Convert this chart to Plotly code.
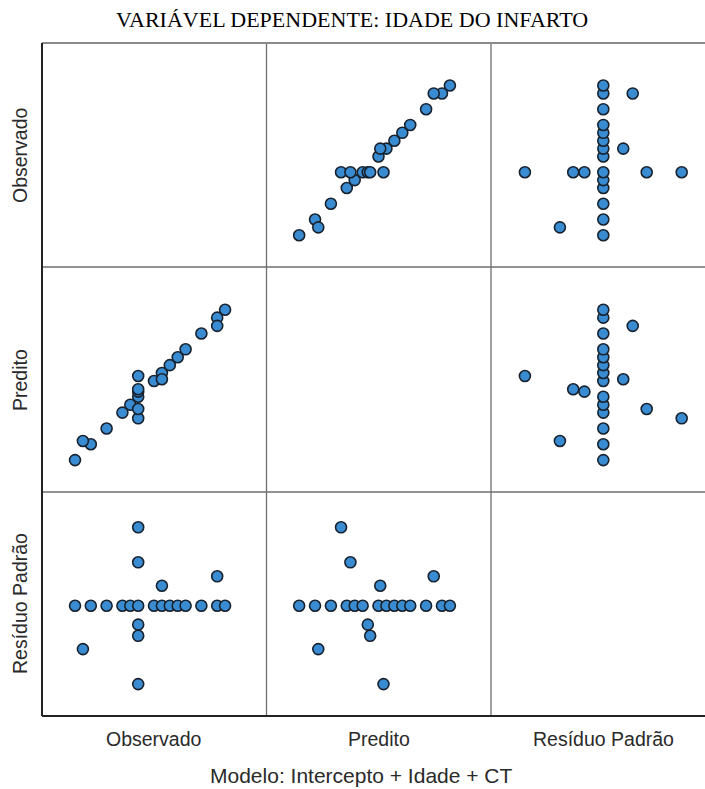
import plotly.graph_objects as go
from plotly.subplots import make_subplots

# ---- data ----
var_names = ["Observado", "Predito", "Resíduo Padrão"]
observado = [50, 52, 54, 56, 57, 58, 60, 61, 62, 63, 64, 66, 68, 69,
             58, 58, 68, 61, 58, 58, 51, 58]
predito = [50, 52, 54, 56, 57, 58, 60, 61, 62, 63, 64, 66, 68, 69,
           55.28, 56.46, 66.96, 60.22, 58.65, 58.95, 52.41, 60.63]
residuo = [0, 0, 0, 0, 0, 0, 0, 0, 0, 0, 0, 0, 0, 0,
           2.24, 1.24, 0.84, 0.57, -0.54, -0.86, -1.24, -2.24]
title_text = "VARIÁVEL DEPENDENTE: IDADE DO INFARTO"
footer_text = "Modelo: Intercepto + Idade + CT"

data = [observado, predito, residuo]
x_ranges = [[45.82, 74.18], [45.82, 74.18], [-3.209, 2.906]]
y_ranges = [[45.97, 74.4], [45.97, 74.4], [-3.151, 3.249]]

W, H = 705, 789
L, T, R, B = 42, 43, 0, 73

fig = make_subplots(rows=3, cols=3, horizontal_spacing=0, vertical_spacing=0,
                    column_widths=[224, 225, 214], row_heights=[224, 225, 224])

for i in range(3):
    for j in range(3):
        if i != j:
            fig.add_trace(go.Scatter(
                x=data[j], y=data[i], mode="markers",
                marker=dict(size=11, color="#3a8cd2",
                            line=dict(color="#18222e", width=1.6)),
                showlegend=False, hoverinfo="skip"), row=i + 1, col=j + 1)
        fig.update_xaxes(range=x_ranges[j], showgrid=False, zeroline=False,
                         showticklabels=False, ticks="", showline=False,
                         row=i + 1, col=j + 1)
        fig.update_yaxes(range=y_ranges[i], showgrid=False, zeroline=False,
                         showticklabels=False, ticks="", showline=False,
                         row=i + 1, col=j + 1)

pw, ph = W - L - R, H - T - B
def px(x):
    return (x - L) / pw
def py(y):
    return (H - B - y) / ph

shapes = []
for xs in [266.5, 491]:
    shapes.append(dict(type="line", xref="paper", yref="paper",
                       x0=px(xs), x1=px(xs), y0=0, y1=1,
                       line=dict(color="#6e6e6e", width=1.3)))
for ys in [267, 492]:
    shapes.append(dict(type="line", xref="paper", yref="paper",
                       x0=0, x1=1, y0=py(ys), y1=py(ys),
                       line=dict(color="#6e6e6e", width=1.3)))
shapes.append(dict(type="line", xref="paper", yref="paper",
                   x0=0, x1=1, y0=1, y1=1,
                   line=dict(color="#8a8a8a", width=2)))
shapes.append(dict(type="line", xref="paper", yref="paper",
                   x0=0, x1=0, y0=0, y1=1,
                   line=dict(color="#222222", width=2)))
shapes.append(dict(type="line", xref="paper", yref="paper",
                   x0=0, x1=1, y0=0, y1=0,
                   line=dict(color="#222222", width=2)))

lab_font = dict(family="Liberation Sans, Arial, sans-serif", size=19.5, color="#2a2a2a")
annotations = []
col_centers = [154, 379, 603]
row_centers = [155, 380, 604]
for k, name in enumerate(var_names):
    annotations.append(dict(text=name, xref="paper", yref="paper",
                            x=px(col_centers[k]), y=py(739), showarrow=False,
                            xanchor="center", yanchor="middle", font=lab_font))
    annotations.append(dict(text=name, xref="paper", yref="paper",
                            x=px(20), y=py(row_centers[k]), showarrow=False,
                            textangle=-90, xanchor="center", yanchor="middle",
                            font=lab_font))
annotations.append(dict(text=footer_text, xref="paper", yref="paper",
                        x=px(361), y=py(776), showarrow=False,
                        xanchor="center", yanchor="middle",
                        font=dict(family="Liberation Sans, Arial, sans-serif",
                                  size=21, color="#2a2a2a")))
annotations.append(dict(text=title_text, xref="paper", yref="paper",
                        x=px(352), y=py(20), showarrow=False,
                        xanchor="center", yanchor="middle",
                        font=dict(family="Liberation Serif, Times New Roman, serif",
                                  size=22, color="#000000")))

fig.update_layout(width=W, height=H, margin=dict(l=L, r=R, t=T, b=B),
                  paper_bgcolor="white", plot_bgcolor="white",
                  shapes=shapes, annotations=annotations, showlegend=False)

fig.write_html("out.html", config={"displayModeBar": False},
               post_script="document.body.style.margin='0';")
